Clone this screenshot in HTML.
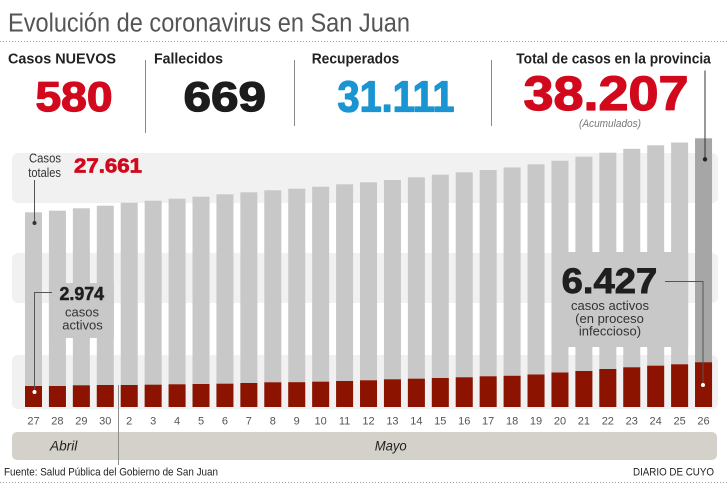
<!DOCTYPE html>
<html><head><meta charset="utf-8">
<style>
html,body{margin:0;padding:0;background:#fff;}
svg{display:block;font-family:"Liberation Sans",Arial,sans-serif;}
</style></head>
<body>
<svg width="728" height="488" viewBox="0 0 728 488" xmlns="http://www.w3.org/2000/svg">
<rect x="0" y="0" width="728" height="488" fill="#fff"/>
<!-- Title -->
<text x="8" y="31.5" font-size="25.5" fill="#555" textLength="402" lengthAdjust="spacingAndGlyphs">Evolución de coronavirus en San Juan</text>
<line x1="0" y1="41.5" x2="728" y2="41.5" stroke="#9a9a9a" stroke-width="1" stroke-dasharray="1 2"/>

<!-- Stat headings -->
<g font-weight="bold" font-size="14.4" fill="#222">
<text x="8" y="63.3" textLength="108" lengthAdjust="spacingAndGlyphs">Casos NUEVOS</text>
<text x="154" y="63.3" textLength="69" lengthAdjust="spacingAndGlyphs">Fallecidos</text>
<text x="311.7" y="63.3" textLength="87.5" lengthAdjust="spacingAndGlyphs">Recuperados</text>
<text x="516.3" y="63.3" textLength="194.5" lengthAdjust="spacingAndGlyphs">Total de casos en la provincia</text>
</g>
<!-- Big numbers -->
<g font-weight="bold" stroke-linejoin="round">
<text x="35.5" y="111" font-size="42" fill="#d2091d" stroke="#d2091d" stroke-width="1.3" textLength="77" lengthAdjust="spacingAndGlyphs">580</text>
<text x="183.5" y="111" font-size="42" fill="#1c1c1c" stroke="#1c1c1c" stroke-width="1.3" textLength="82.5" lengthAdjust="spacingAndGlyphs">669</text>
<text x="337.5" y="111.3" font-size="44" fill="#1b94d2" stroke="#1b94d2" stroke-width="1.3" textLength="117" lengthAdjust="spacingAndGlyphs">31.111</text>
<text x="523.5" y="110" font-size="48" fill="#d2091d" stroke="#d2091d" stroke-width="1.3" textLength="165" lengthAdjust="spacingAndGlyphs">38.207</text>
</g>
<text x="579" y="127" font-size="11" font-style="italic" fill="#777" textLength="62" lengthAdjust="spacingAndGlyphs">(Acumulados)</text>
<!-- separators -->
<g stroke="#8a8a8a" stroke-width="1">
<line x1="145.5" y1="60" x2="145.5" y2="133"/>
<line x1="294.5" y1="60" x2="294.5" y2="126"/>
<line x1="491.5" y1="60" x2="491.5" y2="126"/>
</g>

<!-- background bands -->
<g fill="#f1f1f1">
<rect x="12" y="153" width="706" height="50" rx="6"/>
<rect x="12" y="253" width="706" height="50" rx="6"/>
<rect x="12" y="355" width="706" height="54" rx="6"/>
</g>

<!-- gray bars -->
<g fill="#c8c8c8">
<rect x="25" y="212.3" width="17" height="194.7"/>
<rect x="48.93" y="210.7" width="17" height="196.3"/>
<rect x="72.86" y="208.3" width="17" height="198.7"/>
<rect x="96.79" y="205.7" width="17" height="201.3"/>
<rect x="120.72" y="202.7" width="17" height="204.3"/>
<rect x="144.65" y="200.7" width="17" height="206.3"/>
<rect x="168.58" y="198.7" width="17" height="208.3"/>
<rect x="192.51" y="196.7" width="17" height="210.3"/>
<rect x="216.44" y="194.3" width="17" height="212.7"/>
<rect x="240.37" y="192.3" width="17" height="214.7"/>
<rect x="264.3" y="190.3" width="17" height="216.7"/>
<rect x="288.23" y="188.7" width="17" height="218.3"/>
<rect x="312.16" y="186.7" width="17" height="220.3"/>
<rect x="336.09" y="184.3" width="17" height="222.7"/>
<rect x="360.02" y="182.3" width="17" height="224.7"/>
<rect x="383.95" y="180" width="17" height="227"/>
<rect x="407.88" y="177.3" width="17" height="229.7"/>
<rect x="431.81" y="174.7" width="17" height="232.3"/>
<rect x="455.74" y="172.3" width="17" height="234.7"/>
<rect x="479.67" y="170" width="17" height="237"/>
<rect x="503.6" y="167.5" width="17" height="239.5"/>
<rect x="527.53" y="164.3" width="17" height="242.7"/>
<rect x="551.46" y="160.8" width="17" height="246.2"/>
<rect x="575.39" y="156.7" width="17" height="250.3"/>
<rect x="599.32" y="152.7" width="17" height="254.3"/>
<rect x="623.25" y="148.8" width="17" height="258.2"/>
<rect x="647.18" y="145.3" width="17" height="261.7"/>
<rect x="671.11" y="142.5" width="17" height="264.5"/>
</g>
<rect x="695.04" y="138.3" width="17" height="268.7" fill="#a6a6a6"/>

<!-- label boxes -->
<rect x="48.93" y="283" width="65" height="55" fill="#c8c8c8"/>
<rect x="551.46" y="252" width="136.7" height="95" fill="#c8c8c8"/>

<!-- red bars -->
<g fill="#8c1300">
<rect x="25" y="386" width="17" height="21"/>
<rect x="48.93" y="386" width="17" height="21"/>
<rect x="72.86" y="385.3" width="17" height="21.7"/>
<rect x="96.79" y="385" width="17" height="22"/>
<rect x="120.72" y="385" width="17" height="22"/>
<rect x="144.65" y="384.7" width="17" height="22.3"/>
<rect x="168.58" y="384.3" width="17" height="22.7"/>
<rect x="192.51" y="384" width="17" height="23"/>
<rect x="216.44" y="383.7" width="17" height="23.3"/>
<rect x="240.37" y="383" width="17" height="24"/>
<rect x="264.3" y="382.3" width="17" height="24.7"/>
<rect x="288.23" y="382.2" width="17" height="24.8"/>
<rect x="312.16" y="381.7" width="17" height="25.3"/>
<rect x="336.09" y="381" width="17" height="26"/>
<rect x="360.02" y="380.3" width="17" height="26.7"/>
<rect x="383.95" y="379.3" width="17" height="27.7"/>
<rect x="407.88" y="378.7" width="17" height="28.3"/>
<rect x="431.81" y="378" width="17" height="29"/>
<rect x="455.74" y="377.3" width="17" height="29.7"/>
<rect x="479.67" y="376.3" width="17" height="30.7"/>
<rect x="503.6" y="375.8" width="17" height="31.2"/>
<rect x="527.53" y="374.5" width="17" height="32.5"/>
<rect x="551.46" y="372.5" width="17" height="34.5"/>
<rect x="575.39" y="371" width="17" height="36"/>
<rect x="599.32" y="369" width="17" height="38"/>
<rect x="623.25" y="367.3" width="17" height="39.7"/>
<rect x="647.18" y="365.7" width="17" height="41.3"/>
<rect x="671.11" y="364.3" width="17" height="42.7"/>
<rect x="695.04" y="362.3" width="17" height="44.7"/>
</g>

<!-- leader lines -->
<g stroke="#555" stroke-width="1" fill="none">
<line x1="34.5" y1="180" x2="34.5" y2="223"/>
<polyline points="52,292.5 34.5,292.5 34.5,392"/>
<polyline points="665,281.5 703,281.5 703,385"/>
<line x1="705" y1="70.5" x2="705" y2="159.3" stroke="#333"/>
</g>
<circle cx="34.5" cy="223" r="2" fill="#333"/>
<circle cx="34.5" cy="392" r="2" fill="#fff"/>
<circle cx="703" cy="385" r="2" fill="#fff"/>
<circle cx="705" cy="159.3" r="2.2" fill="#222"/>

<!-- annotations -->
<text x="29" y="162.7" font-size="12.5" fill="#333" textLength="32" lengthAdjust="spacingAndGlyphs">Casos</text>
<text x="28.3" y="177" font-size="12.5" fill="#333" textLength="32.7" lengthAdjust="spacingAndGlyphs">totales</text>
<text x="74" y="172.7" font-size="20" font-weight="bold" fill="#d2091d" stroke="#d2091d" stroke-width="0.7" textLength="68" lengthAdjust="spacingAndGlyphs">27.661</text>

<text x="59.5" y="300" font-size="18" font-weight="bold" fill="#1f1f1f" stroke="#1f1f1f" stroke-width="0.5" textLength="44.5" lengthAdjust="spacingAndGlyphs">2.974</text>
<g font-size="13" fill="#333" text-anchor="middle">
<text x="82" y="316.3">casos</text>
<text x="82.5" y="329.6">activos</text>
</g>

<text x="561.7" y="293" font-size="35" font-weight="bold" fill="#1f1f1f" stroke="#1f1f1f" stroke-width="0.9" textLength="95.5" lengthAdjust="spacingAndGlyphs">6.427</text>
<g font-size="13" fill="#333" text-anchor="middle">
<text x="610" y="310">casos activos</text>
<text x="609.5" y="323">(en proceso</text>
<text x="610" y="335.5">infeccioso)</text>
</g>

<!-- day labels -->
<g font-size="11" fill="#555" text-anchor="middle">
<text x="33.5" y="424.5">27</text>
<text x="57.43" y="424.5">28</text>
<text x="81.36" y="424.5">29</text>
<text x="105.29" y="424.5">30</text>
<text x="129.22" y="424.5">2</text>
<text x="153.15" y="424.5">3</text>
<text x="177.08" y="424.5">4</text>
<text x="201.01" y="424.5">5</text>
<text x="224.94" y="424.5">6</text>
<text x="248.87" y="424.5">7</text>
<text x="272.8" y="424.5">8</text>
<text x="296.73" y="424.5">9</text>
<text x="320.66" y="424.5">10</text>
<text x="344.59" y="424.5">11</text>
<text x="368.52" y="424.5">12</text>
<text x="392.45" y="424.5">13</text>
<text x="416.38" y="424.5">14</text>
<text x="440.31" y="424.5">15</text>
<text x="464.24" y="424.5">16</text>
<text x="488.17" y="424.5">17</text>
<text x="512.1" y="424.5">18</text>
<text x="536.03" y="424.5">19</text>
<text x="559.96" y="424.5">20</text>
<text x="583.89" y="424.5">21</text>
<text x="607.82" y="424.5">22</text>
<text x="631.75" y="424.5">23</text>
<text x="655.68" y="424.5">24</text>
<text x="679.61" y="424.5">25</text>
<text x="703.54" y="424.5">26</text>
</g>

<!-- month band -->
<rect x="12" y="432" width="705" height="28" rx="5" fill="#d3d1c9"/>
<text x="50" y="450.7" font-size="14" font-style="italic" fill="#222" textLength="27.3" lengthAdjust="spacingAndGlyphs">Abril</text>
<text x="374.7" y="450.7" font-size="14" font-style="italic" fill="#222" textLength="32" lengthAdjust="spacingAndGlyphs">Mayo</text>
<line x1="118.5" y1="385" x2="118.5" y2="465" stroke="#8c8c8c" stroke-width="1"/>

<!-- footer -->
<text x="4" y="475.5" font-size="11" fill="#222" textLength="214" lengthAdjust="spacingAndGlyphs">Fuente: Salud Pública del Gobierno de San Juan</text>
<text x="633" y="475.5" font-size="11" fill="#222" textLength="81" lengthAdjust="spacingAndGlyphs">DIARIO DE CUYO</text>
<line x1="0" y1="482.5" x2="728" y2="482.5" stroke="#9a9a9a" stroke-width="1" stroke-dasharray="1 2"/>
</svg>
</body></html>
